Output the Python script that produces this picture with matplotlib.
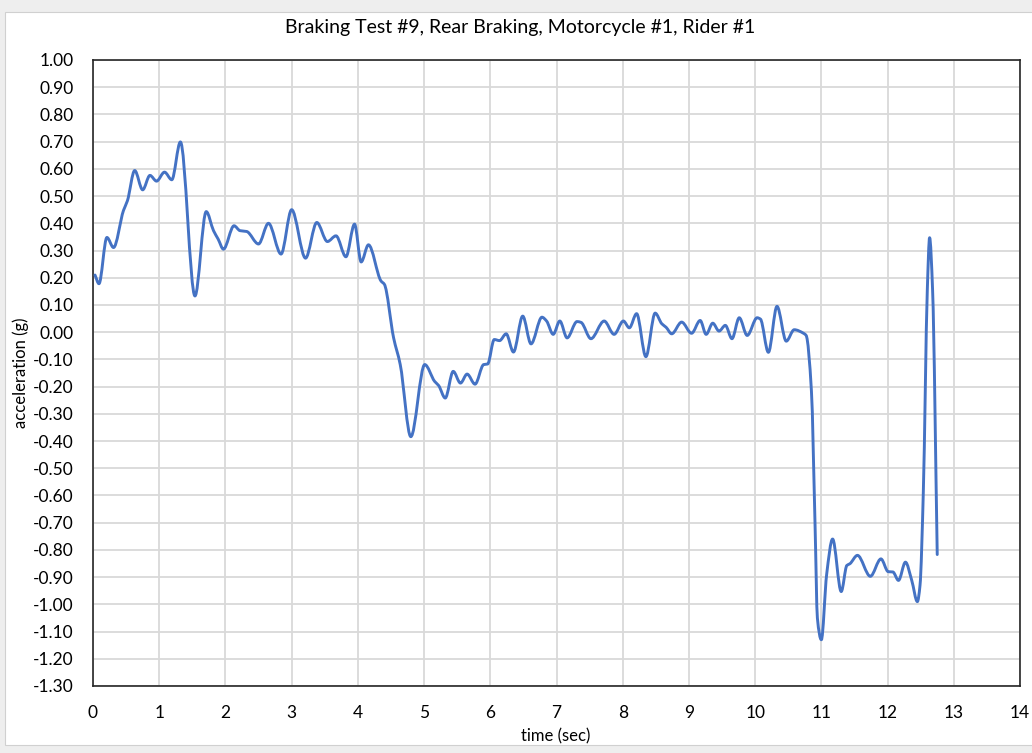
import numpy as np
import matplotlib
matplotlib.use("Agg")
import matplotlib.pyplot as plt
from matplotlib.path import Path
from matplotlib.patches import PathPatch, Rectangle

plt.rcParams['font.family'] = ['Lato', 'DejaVu Sans']

# Braking test #9 — acceleration trace (g) against time (s)
time_s = [0.03, 0.09, 0.21, 0.31, 0.46, 0.52, 0.63, 0.75, 0.86, 0.96, 1.08, 1.19,
          1.32, 1.54, 1.71, 1.82, 1.89, 1.97, 2.13, 2.22, 2.32, 2.50, 2.65, 2.84,
          3.00, 3.21, 3.38, 3.54, 3.67, 3.82, 3.95, 4.05, 4.16, 4.35, 4.40, 4.54,
          4.64, 4.80, 5.01, 5.16, 5.22, 5.32, 5.44, 5.55, 5.65, 5.77, 5.90, 5.96,
          6.06, 6.14, 6.24, 6.35, 6.49, 6.615, 6.78, 6.85, 6.95, 7.05, 7.16, 7.31,
          7.37, 7.52, 7.72, 7.87, 8.01, 8.10, 8.21, 8.35, 8.49, 8.59, 8.655, 8.74,
          8.89, 9.04, 9.17, 9.26, 9.36, 9.455, 9.55, 9.65, 9.76, 9.88, 10.03, 10.08,
          10.20, 10.33, 10.47, 10.59, 10.73, 10.77, 10.85, 10.905, 10.94, 11.00,
          11.08, 11.17, 11.30, 11.385, 11.43, 11.545, 11.74, 11.90, 12.01, 12.08,
          12.165, 12.27, 12.365, 12.45, 12.49, 12.54, 12.60, 12.635, 12.68, 12.75]
accel_g = [0.21, 0.178, 0.348, 0.311, 0.447, 0.483, 0.594, 0.523, 0.576, 0.555, 0.588, 0.56,
           0.699, 0.133, 0.443, 0.373, 0.342, 0.305, 0.391, 0.373, 0.37, 0.324, 0.40, 0.287,
           0.45, 0.272, 0.403, 0.333, 0.354, 0.277, 0.397, 0.258, 0.321, 0.188, 0.176, -0.021,
           -0.119, -0.384, -0.119, -0.181, -0.196, -0.242, -0.144, -0.187, -0.154, -0.191, -0.119, -0.117,
           -0.027, -0.031, -0.006, -0.073, 0.059, -0.043, 0.055, 0.041, -0.008, 0.041, -0.021, 0.039,
           0.036, -0.024, 0.041, -0.008, 0.041, 0.016, 0.068, -0.09, 0.07, 0.031, 0.018, -0.006,
           0.037, -0.004, 0.043, -0.008, 0.033, 0.004, 0.025, -0.024, 0.053, -0.012, 0.053, 0.048,
           -0.074, 0.095, -0.033, 0.009, -0.004, -0.012, -0.216, -0.71, -1.05, -1.13,
           -0.89, -0.76, -0.953, -0.857, -0.851, -0.82, -0.897, -0.833, -0.88, -0.881,
           -0.912, -0.845, -0.912, -0.99, -0.93, -0.586, 0.154, 0.347, 0.154, -0.817]

x_ticks = list(range(0, 15))
y_ticks = [round(v, 2) for v in np.arange(-1.30, 1.0001, 0.10)]

LINE_BLUE = '#4472C4'
GRID_GRAY = '#d9d9d9'


def smooth_path(xs, ys):
    """Smoothed polyline as cubic Bezier segments (shape-preserving tangents)."""
    xs = np.asarray(xs, float)
    ys = np.asarray(ys, float)
    n = len(xs)
    h = np.diff(xs)
    d = np.diff(ys) / h
    m = np.zeros(n)
    for i in range(1, n - 1):
        if d[i - 1] * d[i] > 0:
            w1 = 2 * h[i] + h[i - 1]
            w2 = h[i] + 2 * h[i - 1]
            m[i] = (w1 + w2) / (w1 / d[i - 1] + w2 / d[i])
    m[0] = d[0]
    m[-1] = d[-1]
    verts = [(xs[0], ys[0])]
    codes = [Path.MOVETO]
    for i in range(n - 1):
        hh = h[i]
        verts += [(xs[i] + hh / 3, ys[i] + m[i] * hh / 3),
                  (xs[i + 1] - hh / 3, ys[i + 1] - m[i + 1] * hh / 3),
                  (xs[i + 1], ys[i + 1])]
        codes += [Path.CURVE4] * 3
    return Path(verts, codes)


W, H = 1032, 753
fig = plt.figure(figsize=(W / 100, H / 100), dpi=100)
fig.patch.set_facecolor('#eeeeee')
fig.patches.append(Rectangle((5 / W, 8 / H), 1.0, 1 - 20 / H,
                             transform=fig.transFigure, facecolor='white',
                             edgecolor='#d0d0d0', linewidth=0.8, zorder=-10))

ax = fig.add_axes([93 / W, 1 - 686 / H, (1020 - 93) / W, (686 - 60) / H])
ax.set_zorder(1)
ax.set_facecolor('white')

ax.add_patch(PathPatch(smooth_path(time_s, accel_g), facecolor='none',
                       edgecolor=LINE_BLUE, linewidth=2.1, capstyle='round',
                       joinstyle='round', zorder=3))

ax.set_xlim(0, 14)
ax.set_ylim(-1.30, 1.00)
ax.set_xticks(x_ticks)
ax.set_yticks(y_ticks)
ax.set_yticklabels([f'{v:.2f}' for v in y_ticks])
ax.grid(True, color=GRID_GRAY, linewidth=1.3)
ax.set_axisbelow(True)
ax.tick_params(axis='y', length=0, labelsize=12.5, colors='black', pad=14)
ax.tick_params(axis='x', length=0, labelsize=12.5, colors='black', pad=14)
for side in ax.spines.values():
    side.set_color('#262626')
    side.set_linewidth(1.2)

fig.text(520 / W, 1 - 27 / H, 'Braking Test #9, Rear Braking, Motorcycle #1, Rider #1',
         fontsize=14, color='black', ha='center', va='center')
fig.text(556 / W, 1 - 736 / H, 'time (sec)', fontsize=12, color='black',
         ha='center', va='center')
fig.text(21 / W, 1 - 373 / H, 'acceleration (g)', fontsize=12, color='black',
         ha='center', va='center', rotation=90)

fig.savefig('out.png', dpi=100)
